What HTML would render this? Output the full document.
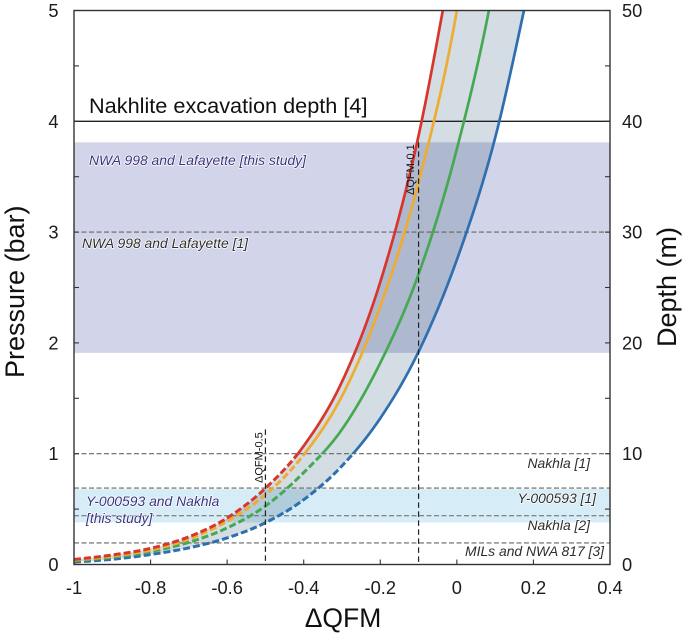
<!DOCTYPE html>
<html>
<head>
<meta charset="utf-8">
<title>Pressure versus delta QFM chart</title>
<style>
html,body{margin:0;padding:0;background:#fff;width:685px;height:637px;overflow:hidden}
svg{display:block;font-family:"Liberation Sans",sans-serif}
.note{font-style:italic;font-size:13.9px;paint-order:stroke;stroke:#fff;stroke-width:1.4px;stroke-linejoin:round;fill:#2e2e2e}
.study{fill:#3b337e}
.tick-label{font-size:18.3px;fill:#1c1c1c}
.axis-title{fill:#111}
#envelope{mix-blend-mode:multiply}
</style>
</head>
<body>
<svg id="chart" xmlns="http://www.w3.org/2000/svg" width="685" height="637" viewBox="0 0 685 637">
<rect width="685" height="637" fill="#fff"/>
<defs>
<clipPath id="plot-clip"><rect id="plot-clip-rect"/></clipPath>
<clipPath id="solid-clip"><rect id="solid-clip-rect"/></clipPath>
<clipPath id="dashed-clip"><rect id="dashed-clip-rect"/></clipPath>
</defs>
<g id="bands"></g>
<g id="envelope" clip-path="url(#plot-clip)"></g>
<g id="refs"></g>
<g id="curves" clip-path="url(#plot-clip)"></g>
<g id="axes"></g>
<text x="89" y="113" font-size="21.7" fill="#111">Nakhlite excavation depth [4]</text>
<text class="note study" x="89" y="165">NWA 998 and Lafayette [this study]</text>
<text class="note" x="82" y="248">NWA 998 and Lafayette [1]</text>
<text class="note study" x="86" y="506">Y-000593 and Nakhla</text>
<text class="note study" x="86" y="523">[this study]</text>
<text class="note" x="590" y="468" text-anchor="end">Nakhla [1]</text>
<text class="note" x="596" y="503" text-anchor="end">Y-000593 [1]</text>
<text class="note" x="590" y="530" text-anchor="end">Nakhla [2]</text>
<text class="note" x="604" y="556" text-anchor="end">MILs and NWA 817 [3]</text>
<text font-size="11" fill="#111" transform="translate(414,195) rotate(-90)">ΔQFM-0.1</text>
<text font-size="11" fill="#111" transform="translate(262.5,483) rotate(-90)">ΔQFM-0.5</text>
<text class="axis-title" x="343" y="627" text-anchor="middle" font-size="26.5">ΔQFM</text>
<text class="axis-title" font-size="27" transform="translate(24,378) rotate(-90)">Pressure (bar)</text>
<text class="axis-title" font-size="27" transform="translate(676,347) rotate(-90)">Depth (m)</text>
</svg>
<script>
const xCategories = [-1, -0.9, -0.8, -0.7, -0.6, -0.5, -0.4, -0.3, -0.2, -0.1, 0, 0.1, 0.2];
const redValues = [0.045, 0.086, 0.146, 0.25, 0.42, 0.688, 1.07, 1.65, 2.55, 3.87, 5.7];
const orangeValues = [0.04, 0.075, 0.13, 0.23, 0.39, 0.63, 0.99, 1.52, 2.33, 3.45, 5.0, 7.4];
const greenValues = [0.033, 0.065, 0.116, 0.2, 0.33, 0.528, 0.83, 1.22, 1.82, 2.62, 3.75, 5.3, 7.6];
const blueValues = [0.022, 0.047, 0.09, 0.15, 0.24, 0.377, 0.585, 0.89, 1.32, 1.92, 2.75, 3.85, 5.4];
const seriesNames = ['red', 'orange', 'green', 'blue'];
const seriesColors = ['#d9362b', '#eeac30', '#45a952', '#2f6fb0'];
const xTicks = [-1, -0.8, -0.6, -0.4, -0.2, 0, 0.2, 0.4];
const xTickLabels = ['-1', '-0.8', '-0.6', '-0.4', '-0.2', '0', '0.2', '0.4'];
const pressureTicks = [0, 1, 2, 3, 4, 5];
const minorPressureTicks = [0.5, 1.5, 2.5, 3.5, 4.5];
const depthLabels = ['0', '10', '20', '30', '40', '50'];
const dashedPressures = [3, 1, 0.69, 0.44, 0.195];
const bluebandRange = [1.91, 3.81];
const cyanBandRange = [0.38, 0.68];
const solidAbovePressure = 1;
const excavationPressure = 4;
const verticalMarkers = [[-0.1, 3.81], [-0.5, 1.22]];

const NS = 'http://www.w3.org/2000/svg';
const L = 74, R = 610, T = 10.5, B = 564.5;
const X = v => L + (v + 1) / 1.4 * (R - L);
const Y = v => B - v / 5 * (B - T);

function make(parent, tag, attrs, text) {
  const el = document.createElementNS(NS, tag);
  for (const k in attrs) el.setAttribute(k, attrs[k]);
  if (text !== undefined) el.textContent = text;
  document.getElementById(parent).appendChild(el);
  return el;
}
function rectAttrs(id, x, y, w, h) {
  const r = document.getElementById(id);
  r.setAttribute('x', x); r.setAttribute('y', y); r.setAttribute('width', w); r.setAttribute('height', h);
}
rectAttrs('plot-clip-rect', L, T, R - L, B - T);
rectAttrs('solid-clip-rect', L, T, R - L, Y(solidAbovePressure) - T);
rectAttrs('dashed-clip-rect', L, Y(solidAbovePressure), R - L, B - Y(solidAbovePressure));

// Smooth drawing through the data points only (Catmull-Rom in pixel space).
function smooth(values) {
  const p = values.map((v, i) => [X(xCategories[i]), Y(v)]);
  const out = [];
  for (let i = 0; i < p.length - 1; i++) {
    const a = p[Math.max(i - 1, 0)], b = p[i], c = p[i + 1], d = p[Math.min(i + 2, p.length - 1)];
    for (let s = 0; s < 12; s++) {
      const t = s / 12, t2 = t * t, t3 = t2 * t;
      out.push([0, 1].map(k => 0.5 * (2 * b[k] + (c[k] - a[k]) * t + (2 * a[k] - 5 * b[k] + 4 * c[k] - d[k]) * t2 + (3 * b[k] - a[k] - 3 * c[k] + d[k]) * t3)));
    }
  }
  out.push(p[p.length - 1]);
  return out;
}
const toPath = pts => 'M' + pts.map(q => q[0].toFixed(2) + ' ' + q[1].toFixed(2)).join('L');

// Bands
const bandBlue = make('bands', 'rect', {x: L, y: Y(bluebandRange[1]), width: R - L, height: Y(bluebandRange[0]) - Y(bluebandRange[1]), fill: '#d2d5e9'});


const bandCyan = make('bands', 'rect', {x: L, y: Y(cyanBandRange[1]), width: R - L, height: Y(cyanBandRange[0]) - Y(cyanBandRange[1]), fill: '#d6edf7'});



// Envelope between the red and blue curves
const envelopePts = smooth(redValues).concat(smooth(blueValues).reverse());
const envelope = make('envelope', 'path', {d: toPath(envelopePts) + 'Z', fill: '#d3dde3'});



// Reference lines
dashedPressures.forEach(p => {
  const l = make('refs', 'line', {x1: L, x2: R, y1: Y(p), y2: Y(p), stroke: '#666', 'stroke-width': 1.1, 'stroke-dasharray': '5 2.5'});
  
  
});
const excavation = make('refs', 'line', {x1: L, x2: R, y1: Y(excavationPressure), y2: Y(excavationPressure), stroke: '#222', 'stroke-width': 1.3});



// Curves
[redValues, orangeValues, greenValues, blueValues].slice().reverse().forEach((vals, ri) => {
  const i = 3 - ri;
  const d = toPath(smooth(vals));
  const g = make('curves', 'g', {});
  
  
  g.id = 'curve-' + seriesNames[i];
  make(g.id, 'path', {d: d, fill: 'none', stroke: seriesColors[i], 'stroke-width': 2.7, 'clip-path': 'url(#solid-clip)'});
  make(g.id, 'path', {d: d, fill: 'none', stroke: seriesColors[i], 'stroke-width': 3, 'stroke-dasharray': '7 3', 'clip-path': 'url(#dashed-clip)'});
});

// Vertical markers
verticalMarkers.forEach(m => {
  const v = make('axes', 'line', {x1: X(m[0]), x2: X(m[0]), y1: Y(m[1]), y2: B, stroke: '#222', 'stroke-width': 1.2, 'stroke-dasharray': '5.5 3.5'});
  
  
});

// Frame
const frame = make('axes', 'rect', {x: L, y: T, width: R - L, height: B - T, fill: 'none', stroke: '#333', 'stroke-width': 1.4});



// Ticks and labels
xTicks.forEach((v, i) => {
  const t = make('axes', 'line', {x1: X(v), x2: X(v), y1: B, y2: B - 5, stroke: '#333', 'stroke-width': 1.1});
  
  
  const lab = make('axes', 'text', {x: X(v), y: 594, 'text-anchor': 'middle', class: 'tick-label'}, xTickLabels[i]);
  
  
});
pressureTicks.concat(minorPressureTicks).forEach(v => {
  const a = make('axes', 'line', {x1: L, x2: L + 5, y1: Y(v), y2: Y(v), stroke: '#333', 'stroke-width': 1.1});
  
  
  const b = make('axes', 'line', {x1: R, x2: R - 5, y1: Y(v), y2: Y(v), stroke: '#333', 'stroke-width': 1.1});
  
  
});
pressureTicks.forEach((v, i) => {
  const a = make('axes', 'text', {x: 58.5, y: Y(v) + 6.5, 'text-anchor': 'end', class: 'tick-label'}, String(v));
  
  
  const b = make('axes', 'text', {x: 622, y: Y(v) + 6.5, class: 'tick-label'}, depthLabels[i]);
  
  
});
</script>
</body>
</html>
